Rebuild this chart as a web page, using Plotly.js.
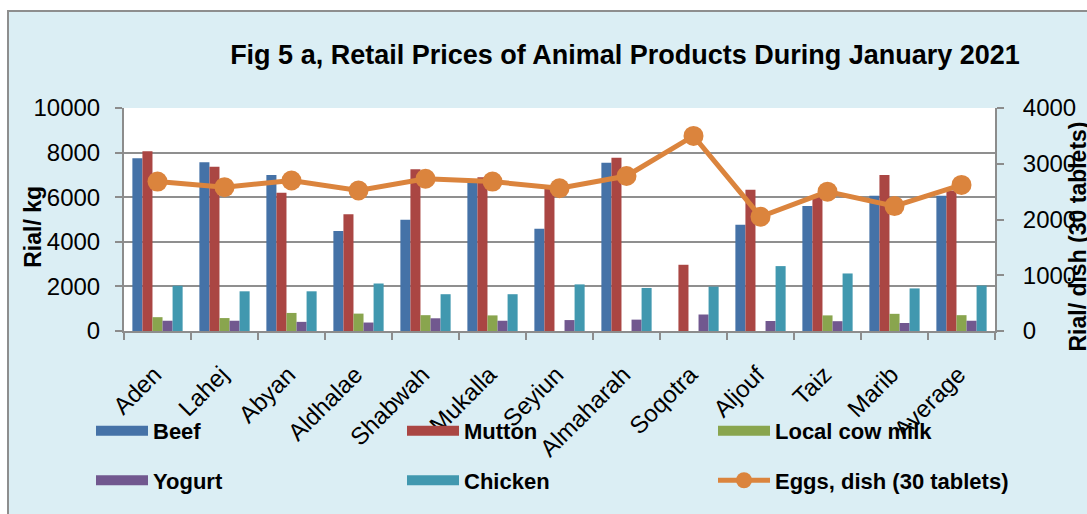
<!DOCTYPE html>
<html>
<head>
<meta charset="utf-8">
<script src="https://cdn.plot.ly/plotly-3.0.1.min.js"></script>
<style>
  html, body { margin: 0; padding: 0; background: #ffffff; overflow: hidden; }
  #frame { position: absolute; left: 7px; top: 10px; border-left: 2px solid #8e8e8e; border-top: 2px solid #8e8e8e; width: 1078px; height: 502px; }
  #chart { width: 1078px; height: 502px; }
</style>
</head>
<body>
<div id="frame"><div id="chart"></div></div>
<script>
// ---- data ----
const categories = ["Aden", "Lahej", "Abyan", "Aldhalae", "Shabwah", "Mukalla", "Seyiun", "Almaharah", "Soqotra", "Aljouf", "Taiz", "Marib", "Average"];
const beef   = [7750, 7570, 6990, 4480, 4990, 6650, 4580, 7540, null, 4770, 5610, 6070, 6070];
const mutton = [8060, 7360, 6200, 5230, 7250, 6900, 6390, 7770, 2970, 6330, 6030, 6990, 6300];
const milk   = [620, 580, 810, 780, 710, 700, null, null, null, null, 700, 770, 710];
const yogurt = [460, 460, 410, 380, 570, 460, 490, 510, 740, 450, 440, 360, 460];
const chicken = [2030, 1780, 1780, 2130, 1650, 1650, 2090, 1930, 1990, 2910, 2580, 1910, 2040];
const eggs   = [2680, 2580, 2700, 2520, 2730, 2680, 2560, 2780, 3500, 2050, 2500, 2240, 2620];

const seriesNames = ["Beef", "Mutton", "Local cow milk", "Yogurt", "Chicken", "Eggs, dish (30 tablets)"];
const colors = ["#4572A7", "#AA4643", "#89A54E", "#71588F", "#4198AF", "#DB843D"];
const legendOf = ["legend", "legend", "legend", "legend2", "legend2", "legend2"];

const barData = [beef, mutton, milk, yogurt, chicken];
const traces = [];
barData.forEach((vals, i) => {
  traces.push({
    type: "bar", x: categories, y: vals, name: seriesNames[i],
    marker: { color: colors[i] }, showlegend: false, yaxis: "y", hoverinfo: "x+y+name"
  });
});
// legend-only proxies (wide rectangles like the reference legend)
barData.forEach((vals, i) => {
  traces.push({
    type: "scatter", mode: "lines", x: [null], y: [null], name: seriesNames[i],
    line: { color: colors[i], width: 10 }, legend: legendOf[i], showlegend: true, hoverinfo: "skip"
  });
});
traces.push({
  type: "scatter", mode: "lines+markers", x: categories, y: eggs, name: seriesNames[5],
  yaxis: "y2", line: { color: colors[5], width: 5 }, marker: { color: colors[5], size: 20 },
  legend: "legend2", showlegend: true, cliponaxis: false
});

const W = 1078, H = 502;
const FAM = "Liberation Sans, Arial, sans-serif";
const tickFont = { family: FAM, size: 24, color: "#000" };
const legendFont = { family: FAM, size: 22, color: "#000", weight: "bold" };

const legendBase = {
  orientation: "h", xref: "paper", yref: "paper", x: (82 - 115) / 871, xanchor: "left",
  yanchor: "middle", font: legendFont, bgcolor: "rgba(0,0,0,0)",
  itemwidth: 52, entrywidth: 244, entrywidthmode: "pixels", itemclick: false, itemdoubleclick: false
};

const layout = {
  width: W, height: H,
  paper_bgcolor: "#DBEEF4", plot_bgcolor: "#ffffff",
  margin: { l: 115, r: 92, t: 96, b: 177, pad: 0 },
  font: { family: FAM, color: "#000" },
  title: {
    text: "Fig 5 a, Retail Prices of Animal Products During January 2021",
    font: { family: FAM, size: 27, weight: "bold", color: "#000" },
    xref: "container", yref: "container", x: 616 / W, xanchor: "center", y: 1 - 43 / H, yanchor: "middle"
  },
  barmode: "group", bargap: 0.25, bargroupgap: 0,
  xaxis: {
    type: "category", range: [-0.5, categories.length - 0.5], autorange: false,
    tickangle: -45, tickfont: { family: FAM, size: 24, color: "#000" },
    ticklabelshift: -3, ticklabelstandoff: 18,
    showline: true, linecolor: "#8c8c8c", linewidth: 2, ticks: "outside", tickson: "boundaries",
    ticklen: 7, tickcolor: "#8c8c8c", tickwidth: 2, showgrid: false, automargin: false, fixedrange: true
  },
  yaxis: {
    range: [0, 10000], tickvals: [0, 2000, 4000, 6000, 8000, 10000], ticktext: ["0", "2000", "4000", "6000", "8000", "10000"],
    tickfont: tickFont, showline: true, linecolor: "#8c8c8c", linewidth: 2,
    ticks: "outside", ticklen: 7, tickcolor: "#8c8c8c", tickwidth: 2, ticklabelstandoff: 10,
    showgrid: true, gridcolor: "#8f8f8f", gridwidth: 1.5, zeroline: false, automargin: false, fixedrange: true
  },
  yaxis2: {
    overlaying: "y", side: "right", range: [0, 4000], tickvals: [0, 1000, 2000, 3000, 4000],
    tickfont: tickFont, showline: true, linecolor: "#8c8c8c", linewidth: 2,
    ticks: "outside", ticklen: 7, tickcolor: "#8c8c8c", tickwidth: 2, ticklabelstandoff: 14,
    showgrid: false, zeroline: false, automargin: false, fixedrange: true
  },
  legend: Object.assign({}, legendBase, { y: (325 - 427.7) / 229 }),
  legend2: Object.assign({}, legendBase, { y: (325 - 478.5) / 229 }),
  annotations: [
    { text: "Rial/ kg", xref: "paper", yref: "paper", x: (24 - 115) / 871, y: (325 - 218) / 229,
      textangle: -90, showarrow: false, xanchor: "center", yanchor: "middle",
      font: { family: FAM, size: 23, weight: "bold", color: "#000" } },
    { text: "Rial/ dish (30 tablets)", xref: "paper", yref: "paper", x: (1069 - 115) / 871, y: (325 - 228) / 229,
      textangle: -90, showarrow: false, xanchor: "center", yanchor: "middle",
      font: { family: FAM, size: 23, weight: "bold", color: "#000" } }
  ],
  showlegend: true
};

Plotly.newPlot("chart", traces, layout, { displayModeBar: false, responsive: false });
</script>
</body>
</html>
